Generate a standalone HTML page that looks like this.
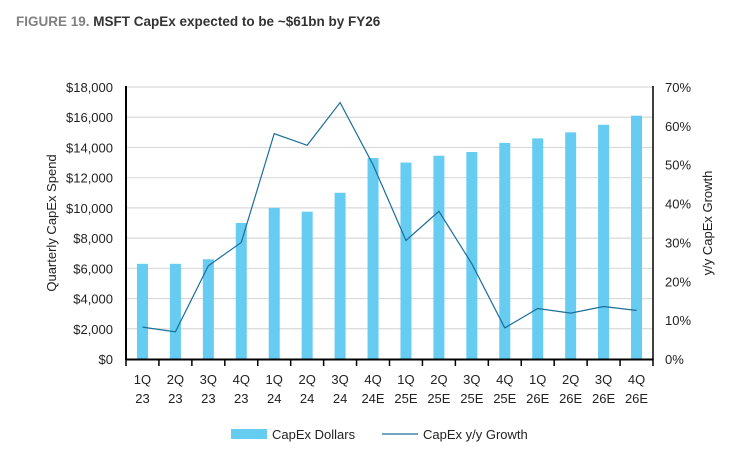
<!DOCTYPE html>
<html><head><style>
body{margin:0;background:#fff;width:747px;height:460px;overflow:hidden}
svg text{font-family:"Liberation Sans",sans-serif}
</style></head><body>
<svg width="747" height="460" xmlns="http://www.w3.org/2000/svg">
<text x="16" y="26" font-size="13.5" font-weight="bold" fill="#808080">FIGURE 19. <tspan fill="#333">MSFT CapEx expected to be ~$61bn by FY26</tspan></text>
<g id="grid" stroke="#d9d9d9" stroke-width="1.2"></g>
<g id="bars" fill="#66ccf2"></g>
<polyline id="line" fill="none" stroke="#1a6e99" stroke-width="1.2"/>
<line x1="126" y1="86" x2="126" y2="360" stroke="#000" stroke-width="2"/>
<line x1="653" y1="86" x2="653" y2="360" stroke="#000" stroke-width="1.5"/>
<line x1="126" y1="359.5" x2="653" y2="359.5" stroke="#000" stroke-width="2"/>
<g id="ticks" stroke="#000" stroke-width="1.5"></g>
<g id="labels" font-size="13" fill="#222"></g>
<text transform="translate(56,223) rotate(-90)" font-size="13" fill="#222" text-anchor="middle">Quarterly CapEx Spend</text>
<text transform="translate(712,223) rotate(-90)" font-size="13" fill="#222" text-anchor="middle">y/y CapEx Growth</text>
<rect x="231" y="429" width="36" height="10" fill="#66ccf2"/>
<text x="272" y="439" font-size="13" fill="#222">CapEx Dollars</text>
<line x1="382" y1="434" x2="418" y2="434" stroke="#1a6e99" stroke-width="1.2"/>
<text x="423" y="439" font-size="13" fill="#222">CapEx y/y Growth</text>
</svg>
<script>
const ns="http://www.w3.org/2000/svg";
function el(p,t,a,txt){const e=document.createElementNS(ns,t);for(const k in a)e.setAttribute(k,a[k]);if(txt!==undefined)e.textContent=txt;document.getElementById(p).appendChild(e);}
const y0=359,py=272/18000,pr=272/70;
for(let v=0;v<=18000;v+=2000){const y=y0-v*py;
 if(v>0)el("grid","line",{x1:126,x2:653,y1:y,y2:y});
 el("labels","text",{x:113,y:y+5,"text-anchor":"end"},"$"+v.toLocaleString("en-US"));}
for(let p=0;p<=70;p+=10){const y=y0-p*pr;el("labels","text",{x:665,y:y+5},p+"%");}
const bars=[6300,6300,6600,9000,10000,9750,11000,13300,13000,13450,13700,14300,14600,15000,15500,16100];
const g=[8.2,7,24,30,58,55,66,50,30.5,38,24.5,8,13,11.8,13.5,12.5];
const q=["1Q","2Q","3Q","4Q","1Q","2Q","3Q","4Q","1Q","2Q","3Q","4Q","1Q","2Q","3Q","4Q"];
const yr=["23","23","23","23","24","24","24","24E","25E","25E","25E","25E","26E","26E","26E","26E"];
const w=527/16;let pts=[];
for(let i=0;i<16;i++){const cx=126+w*(i+0.5);
 el("bars","rect",{x:cx-5.5,y:y0-bars[i]*py,width:11,height:bars[i]*py});
 pts.push(cx+","+(y0-g[i]*pr));
 el("labels","text",{x:cx,y:384,"text-anchor":"middle"},q[i]);
 el("labels","text",{x:cx,y:403,"text-anchor":"middle"},yr[i]);
 el("ticks","line",{x1:126+w*(i+1),x2:126+w*(i+1),y1:359,y2:366});}
el("ticks","line",{x1:126,x2:126,y1:359,y2:366});
document.getElementById("line").setAttribute("points",pts.join(" "));
</script>
</body></html>
